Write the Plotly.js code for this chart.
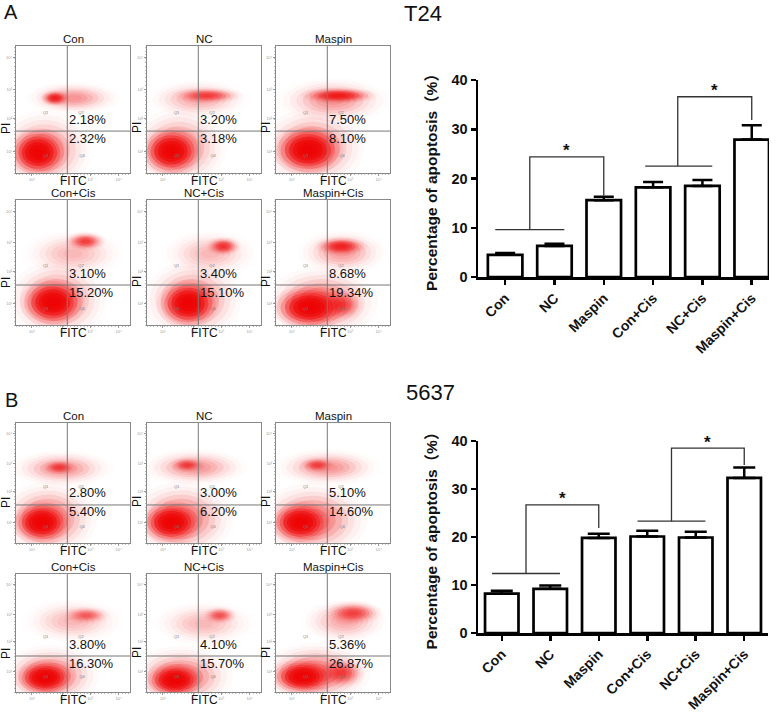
<!DOCTYPE html>
<html><head><meta charset="utf-8">
<script src="https://cdn.plot.ly/plotly-3.0.1.min.js"></script>
<style>html,body{margin:0;padding:0;background:#fff}#chart{width:778px;height:714px}</style>
</head><body><div id="chart"></div>
<script>
// ---------- bar chart data ----------
const groups = ['Con','NC','Maspin','Con+Cis','NC+Cis','Maspin+Cis'];
const t24Mean = [4.5, 6.3, 15.6, 18.2, 18.5, 27.9];
const t24Err  = [0.35, 0.45, 0.7, 1.1, 1.2, 2.9];
const c5637Mean = [8.2, 9.2, 19.8, 20.1, 19.9, 32.3];
const c5637Err  = [0.6, 0.7, 0.9, 1.2, 1.2, 2.2];
const yTicks = [0, 10, 20, 30, 40];
// significance brackets: [baseLeft, baseRight, baseY, riseX, topY, targetX, dropY]
const t24Brackets   = [[-0.2, 1.2, 9.6, 0.5, 24.4, 2, 16.5], [2.84, 4.2, 22.5, 3.5, 36.6, 5, 31.9]];
const c5637Brackets = [[-0.2, 1.2, 12.4, 0.5, 26.7, 2, 21.9], [2.8, 4.2, 23.3, 3.5, 38.5, 5, 35.0]];

// ---------- flow cytometry panel data ----------
const t24Upper   = ['2.18%','3.20%','7.50%','3.10%','3.40%','8.68%'];
const t24Lower   = ['2.32%','3.18%','8.10%','15.20%','15.10%','19.34%'];
const c5637Upper = ['2.80%','3.00%','5.10%','3.80%','4.10%','5.36%'];
const c5637Lower = ['5.40%','6.20%','14.60%','16.30%','15.70%','26.87%'];
const gateX = 45;
const t24GateY   = [33, 33, 33, 32, 32, 32];
const c5637GateY = [31.7, 31.7, 31.7, 30.5, 30.5, 30.5];
const quadLabels = ['Q1','Q2','Q3','Q4'];
const quadX = [26, 57, 26, 58];
const quadY = [47, 47, 13, 13];
const flowTickText = ['10¹','10²','10³','10⁴'];
const flowXTicks = [14, 41, 65, 90];
const flowYTicks = [17, 43, 66, 91];
// cell populations per panel: [centreX, centreY, spreadX, spreadY, density]
const t24Blobs = [
  [[25,18,32,24,0.25],[50,59,32,10,0.2],[19,16,20,15,1],[34,59,10,5,0.6]],
  [[28,20,32,24,0.25],[45,58,35,12,0.15],[21,17,21,15,1],[53,61,24,5,0.4]],
  [[32,20,35,24,0.3],[50,57,38,14,0.2],[28,18,24,15,1],[55,61,26,5,0.6]],
  [[36,20,33,24,0.3],[50,57,35,15,0.12],[32,18,22,15,1],[61,67,14,6,0.45]],
  [[40,20,33,24,0.3],[55,57,33,15,0.12],[36,17,21,15,1],[67,63,12,6,0.5]],
  [[40,18,38,22,0.3],[58,58,30,14,0.18],[58,16,15,10,0.35],[29,14,25,14,1],[57,63,18,6,0.55]]
];
const c5637Blobs = [
  [[28,20,33,24,0.3],[40,62,35,12,0.2],[22,17,20,14,1],[38,63,12,5,0.35]],
  [[30,20,35,24,0.3],[42,63,36,12,0.2],[21,17,21,14,1],[35,65,12,5,0.35]],
  [[32,19,37,24,0.3],[45,63,36,12,0.2],[21,17,21,14,1],[36,65,12,5,0.35]],
  [[30,14,33,20,0.3],[50,60,35,15,0.12],[25,12,20,12,1],[62,65,16,6,0.3]],
  [[30,13,35,20,0.3],[50,58,35,15,0.12],[24,10,20,12,1],[64,65,12,6,0.35]],
  [[35,16,37,20,0.3],[60,60,30,15,0.15],[58,16,16,10,0.4],[23,13,22,12,1],[68,67,20,8,0.4]]
];

// ---------- layout helpers ----------
const W = 778, H = 714;
const fx = p => p / W, fy = p => 1 - p / H;
const FONT = 'Liberation Sans, Arial, Noto Sans CJK SC, sans-serif';
const data = [], shapes = [], annotations = [];
const layout = {
  width: W, height: H, margin: {l:0, r:0, t:0, b:0},
  paper_bgcolor: '#fff', plot_bgcolor: 'rgba(0,0,0,0)',
  showlegend: false, hovermode: false, font: {family: FONT, color: '#111'}
};
let axisN = 0;
function nextAxes() {
  axisN++;
  const s = axisN === 1 ? '' : String(axisN);
  return {xa: 'xaxis' + s, ya: 'yaxis' + s, xr: 'x' + s, yr: 'y' + s};
}
const blobScales = [1.3, 1.15, 1.0, 0.85, 0.7, 0.55, 0.4, 0.25];
const blobAlphas = [0.06, 0.12, 0.2, 0.32, 0.45, 0.5, 0.45, 0.4];

function flowPanel(rowPx, colPx, title, up, low, gateY, blobs) {
  const a = nextAxes();
  const axCommon = {range: [0, 100], showline: true, mirror: true, linecolor: '#888', linewidth: 1,
    ticks: 'outside', ticklen: 2, tickcolor: '#999', tickwidth: 1, showgrid: false, zeroline: false,
    ticktext: flowTickText, tickfont: {size: 4, color: '#999'}, fixedrange: true,
    minor: {ticks: 'outside', ticklen: 1, tickcolor: '#bbb', dtick: 3}};
  layout[a.xa] = Object.assign({}, axCommon, {domain: [fx(colPx[0]), fx(colPx[1])], anchor: a.yr, tickvals: flowXTicks});
  layout[a.ya] = Object.assign({}, axCommon, {domain: [fy(rowPx[1]), fy(rowPx[0])], anchor: a.xr, tickvals: flowYTicks});
  blobs.forEach(b => {
    blobScales.forEach((s, i) => shapes.push({type: 'circle', xref: a.xr, yref: a.yr, layer: 'below',
      x0: b[0] - b[2] * s, x1: b[0] + b[2] * s, y0: b[1] - b[3] * s, y1: b[1] + b[3] * s,
      fillcolor: 'rgba(238,0,0,' + (blobAlphas[i] * b[4]).toFixed(3) + ')', line: {width: 0}}));
  });
  shapes.push({type: 'line', xref: a.xr, yref: a.yr, x0: gateX, x1: gateX, y0: 0, y1: 100, line: {color: '#777', width: 1}});
  shapes.push({type: 'line', xref: a.xr, yref: a.yr, x0: 0, x1: 100, y0: gateY, y1: gateY, line: {color: '#777', width: 1}});
  data.push({type: 'scatter', mode: 'text', x: quadX, y: quadY, text: quadLabels, xaxis: a.xr, yaxis: a.yr,
    textfont: {size: 4, color: '#777'}, hoverinfo: 'skip', cliponaxis: false});
  const cx = (colPx[0] + colPx[1]) / 2;
  annotations.push({xref: 'paper', yref: 'paper', x: fx(cx), y: fy(rowPx[0] - 7), text: title, showarrow: false,
    font: {size: 11.5, family: FONT, color: '#111'}, xanchor: 'center', yanchor: 'middle'});
  annotations.push({xref: 'paper', yref: 'paper', x: fx(cx), y: fy(rowPx[1] + 8), text: 'FITC', showarrow: false,
    font: {size: 12, family: FONT, color: '#111'}, xanchor: 'center', yanchor: 'middle'});
  annotations.push({xref: a.xr, yref: a.yr, x: 0, y: gateY, xshift: -10, yshift: 3, text: 'PI', textangle: -90, showarrow: false,
    font: {size: 12, family: FONT, color: '#111'}, xanchor: 'center', yanchor: 'middle'});
  annotations.push({xref: a.xr, yref: a.yr, x: gateX, y: gateY, xshift: 0, yshift: 12, text: up, showarrow: false,
    font: {size: 13, family: FONT, color: '#111'}, xanchor: 'left', yanchor: 'middle'});
  annotations.push({xref: a.xr, yref: a.yr, x: gateX, y: gateY, xshift: 0, yshift: -7, text: low, showarrow: false,
    font: {size: 13, family: FONT, color: '#111'}, xanchor: 'left', yanchor: 'middle'});
}

const cols = [[16,130],[147,261],[276,390]];
function flowSet(rows, ups, lows, gates, blobs) {
  for (let i = 0; i < 6; i++) {
    flowPanel(rows[Math.floor(i / 3)], cols[i % 3], groups[i], ups[i], lows[i], gates[i], blobs[i]);
  }
}
flowSet([[46,173],[200,325]], t24Upper, t24Lower, t24GateY, t24Blobs);
flowSet([[423,543],[574,692]], c5637Upper, c5637Lower, c5637GateY, c5637Blobs);

function barChart(xPx, yPx, xRange, means, errs, brackets, barWidth, capW) {
  const a = nextAxes();
  const idx = groups.map((g, i) => i);
  layout[a.xa] = {domain: [fx(xPx[0]), fx(xPx[1])], anchor: a.yr, range: xRange,
    showline: true, linecolor: '#000', linewidth: 2.5, ticks: 'outside', ticklen: 5, tickwidth: 2.5, tickcolor: '#000',
    tickvals: idx, ticktext: groups, tickangle: -45, tickfont: {size: 14, family: FONT, weight: 'bold', color: '#111'},
    showgrid: false, zeroline: false, fixedrange: true};
  layout[a.ya] = {domain: [fy(yPx[1]), fy(yPx[0])], anchor: a.xr, range: [0, 40],
    showline: true, linecolor: '#000', linewidth: 2.5, ticks: 'outside', ticklen: 5, tickwidth: 2.5, tickcolor: '#000',
    tickvals: yTicks, tickfont: {size: 14.5, family: FONT, weight: 'bold', color: '#111'},
    showgrid: false, zeroline: false, fixedrange: true,
    title: {text: 'Percentage of apoptosis（%）', font: {size: 15.5, family: FONT, weight: 'bold', color: '#111'}, standoff: 10}};
  data.push({type: 'bar', x: idx, y: means, width: barWidth, xaxis: a.xr, yaxis: a.yr,
    marker: {color: '#fff', line: {color: '#000', width: 2.7}},
    error_y: {type: 'data', array: errs, arrayminus: errs.map(() => 0), symmetric: false,
      color: '#000', thickness: 2.5, width: capW}, hoverinfo: 'skip'});
  brackets.forEach(b => {
    data.push({type: 'scatter', mode: 'lines', xaxis: a.xr, yaxis: a.yr, hoverinfo: 'skip',
      x: [b[0], b[1], null, b[3], b[3], b[5], b[5]],
      y: [b[2], b[2], null, b[2], b[4], b[4], b[6]],
      line: {color: '#333', width: 1.3}, cliponaxis: false});
    annotations.push({xref: a.xr, yref: a.yr, x: (b[3] + b[5]) / 2, y: b[4], yshift: 6, text: '*', showarrow: false,
      font: {size: 17, family: FONT, weight: 'bold', color: '#111'}, xanchor: 'center', yanchor: 'middle'});
  });
}
barChart([478,769], [80,277], [-0.55, 5.35], t24Mean, t24Err, t24Brackets, 0.7, 10);
barChart([478,768], [441,633], [-0.49, 5.49], c5637Mean, c5637Err, c5637Brackets, 0.69, 11);

// panel letters and cell line names
annotations.push({xref:'paper', yref:'paper', x: fx(2), y: fy(12), text: 'A', showarrow: false, xanchor: 'left', yanchor: 'middle', font: {size: 20, family: FONT, color: '#111'}});
annotations.push({xref:'paper', yref:'paper', x: fx(3), y: fy(400), text: 'B', showarrow: false, xanchor: 'left', yanchor: 'middle', font: {size: 20, family: FONT, color: '#111'}});
annotations.push({xref:'paper', yref:'paper', x: fx(402), y: fy(13), text: 'T24', showarrow: false, xanchor: 'left', yanchor: 'middle', font: {size: 22, family: FONT, color: '#111'}});
annotations.push({xref:'paper', yref:'paper', x: fx(404), y: fy(392), text: '5637', showarrow: false, xanchor: 'left', yanchor: 'middle', font: {size: 22, family: FONT, color: '#111'}});

layout.shapes = shapes;
layout.annotations = annotations;
Plotly.newPlot('chart', data, layout, {staticPlot: true, displayModeBar: false});
</script></body></html>
